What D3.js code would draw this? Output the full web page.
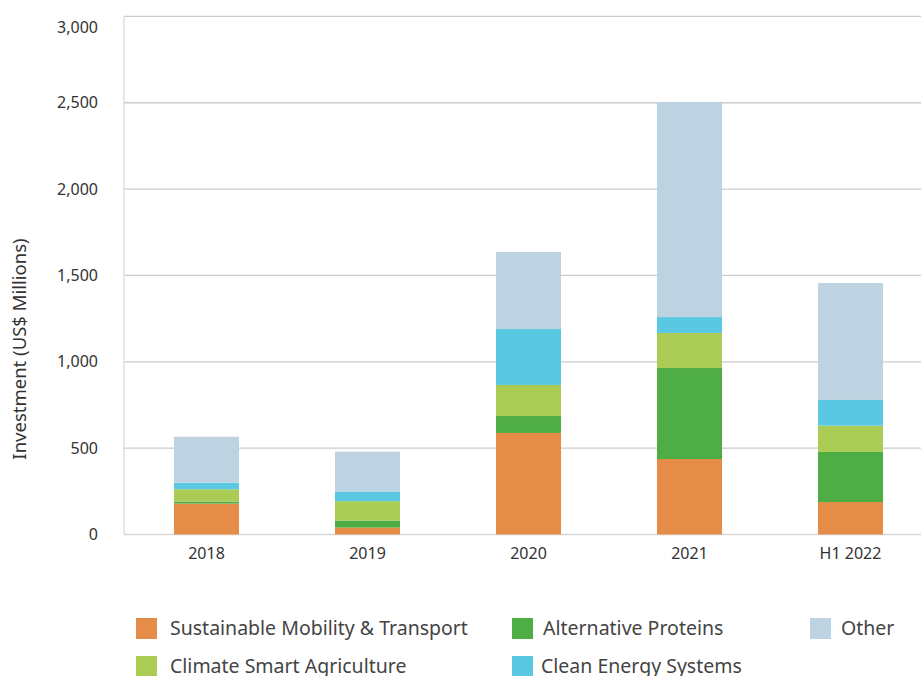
<!DOCTYPE html>
<html><head><meta charset="utf-8">
<script src="https://cdn.jsdelivr.net/npm/d3@7"></script>
<style>body{margin:0;background:#fff;} svg{display:block;font-family:"Source Sans Pro","Noto Sans",sans-serif;}</style>
</head><body>
<svg id="c" width="921" height="676"></svg>
<script>
const categories = ["2018", "2019", "2020", "2021", "H1 2022"];
const seriesNames = ["Sustainable Mobility & Transport", "Alternative Proteins", "Climate Smart Agriculture", "Clean Energy Systems", "Other"];
const mobility = [179, 40, 588, 437, 188];
const proteins = [12, 41, 98, 527, 290];
const agriculture = [71, 112, 180, 203, 152];
const energy = [38, 56, 324, 92, 149];
const other = [266, 231, 446, 1246, 677];
const yTicks = [0, 500, 1000, 1500, 2000, 2500, 3000];
const colors = ["#E48C48", "#4FAD46", "#AACC55", "#5BC8E2", "#BED3E1"];

const seriesVals = [mobility, proteins, agriculture, energy, other];
const table = categories.map((c, i) => {
  const o = {cat: c};
  seriesNames.forEach((s, j) => o[s] = seriesVals[j][i]);
  return o;
});
const stacked = d3.stack().keys(seriesNames)(table);

const svg = d3.select("#c");
const x = d3.scaleBand().domain(categories).range([126, 931]).paddingInner(0.596).paddingOuter(0.298);
const y = d3.scaleLinear().domain([0, 3000]).range([534.5, 16.4]);

// gridlines
svg.append("g").selectAll("line").data(yTicks).join("line")
  .attr("x1", 124).attr("x2", 921)
  .attr("y1", d => y(d)).attr("y2", d => y(d))
  .attr("stroke", d => d === 0 ? "#d6d6d6" : "#cccccc").attr("stroke-width", 1.3);
// y axis line
svg.append("line").attr("x1", 124).attr("x2", 124).attr("y1", y(3000)).attr("y2", y(0))
  .attr("stroke", "#dadada").attr("stroke-width", 1.3);

// y tick labels via axis
const yAxis = svg.append("g").attr("transform", "translate(98,0)")
  .call(d3.axisLeft(y).tickValues(yTicks).tickSize(0).tickPadding(0).tickFormat(d3.format(",")));
yAxis.select(".domain").remove();
yAxis.selectAll("text").attr("font-size", 16).attr("fill", "#333").attr("font-family", "'Source Sans Pro','Noto Sans',sans-serif")
  .attr("dy", d => d === 3000 ? "1.0em" : "0.32em");

// bars
svg.append("g").selectAll("g").data(stacked).join("g")
  .attr("fill", (d, i) => colors[i])
  .selectAll("rect").data(d => d).join("rect")
  .attr("x", d => x(d.data.cat)).attr("width", x.bandwidth())
  .attr("y", d => y(d[1])).attr("height", d => y(d[0]) - y(d[1]));

// x labels
const xAxis = svg.append("g").attr("transform", "translate(0,548)")
  .call(d3.axisBottom(x).tickSize(0).tickPadding(0));
xAxis.select(".domain").remove();
xAxis.selectAll("text").attr("font-size", 16).attr("fill", "#333").attr("dy", "0.71em").attr("font-family", "'Source Sans Pro','Noto Sans',sans-serif");

// y title
svg.append("text").attr("transform", "translate(26,349) rotate(-90)")
  .attr("text-anchor", "middle").attr("font-size", 18.5).attr("fill", "#333")
  .text("Investment (US$ Millions)");

// legend
const legendPos = [[136, 618], [512, 618], [136, 656], [512, 656], [810, 618]];
const legendTextX = [170, 543, 170, 541, 841];
const lg = svg.append("g");
seriesNames.forEach((s, i) => {
  const [lx, ly] = legendPos[i];
  lg.append("rect").attr("x", lx).attr("y", ly).attr("width", 21).attr("height", 21).attr("fill", colors[i]);
  lg.append("text").attr("x", legendTextX[i]).attr("y", ly + 17).attr("font-size", 19.5).attr("fill", "#444").text(s);
});
</script>
</body></html>
